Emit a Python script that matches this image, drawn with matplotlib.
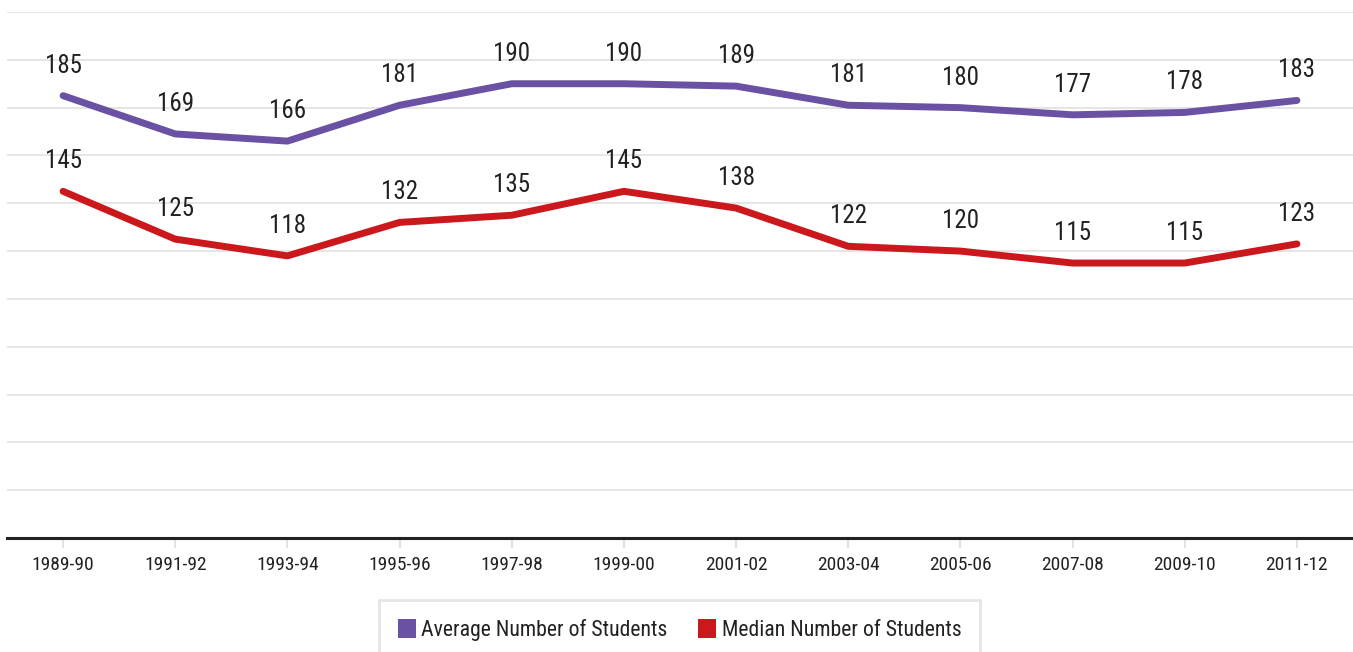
import matplotlib
matplotlib.use("Agg")
import matplotlib.pyplot as plt
from matplotlib.patches import Patch
from matplotlib import font_manager as fm

years = ["1989-90", "1991-92", "1993-94", "1995-96", "1997-98", "1999-00",
         "2001-02", "2003-04", "2005-06", "2007-08", "2009-10", "2011-12"]
average = [185, 169, 166, 181, 190, 190, 189, 181, 180, 177, 178, 183]
median = [145, 125, 118, 132, 135, 145, 138, 122, 120, 115, 115, 123]

PURPLE = "#6a51a3"
RED = "#cb181d"
TXT = "#222222"

# look for a condensed / narrow face
def is_narrow(f):
    n = (f.name + " " + f.fname).lower()
    st = f.stretch
    narrow = ('narrow' in n or 'condensed' in n or
              st in ('condensed', 'semi-condensed', 'extra-condensed', 'ultra-condensed') or
              (isinstance(st, int) and st < 500))
    w = f.weight
    normal_w = w in ('normal', 'regular', 'book', 400) or (isinstance(w, int) and w == 400)
    sty = f.style == 'normal'
    return narrow and normal_w and sty

cands = [f for f in fm.fontManager.ttflist if is_narrow(f)]
pref = ['liberation sans narrow', 'roboto condensed', 'open sans condensed', 'dejavu sans']
chosen = None
for p in pref:
    for f in cands:
        if p in f.name.lower():
            chosen = f
            break
    if chosen:
        break
if chosen is None and cands:
    chosen = cands[0]

if chosen is not None:
    FP = lambda size: fm.FontProperties(fname=chosen.fname, size=size)
    scale = 1.0
else:
    plt.rcParams['font.family'] = ['Roboto', 'DejaVu Sans']
    FP = lambda size: fm.FontProperties(family=['Roboto', 'DejaVu Sans'], size=size)
    scale = 0.85

fig = plt.figure(figsize=(13.53, 6.52), dpi=100)
ax = fig.add_axes([7/1353, (652-538)/652, 1346/1353, 526/652])

x = list(range(len(years)))
ax.plot(x, average, color=PURPLE, lw=5, solid_capstyle='round', zorder=3)
ax.plot(x, median, color=RED, lw=5, solid_capstyle='round', zorder=3)

for series in (average, median):
    for xi, v in zip(x, series):
        ax.annotate(str(v), (xi, v), xytext=(0, 13), textcoords='offset points',
                    ha='center', va='bottom', fontproperties=FP(18 * scale), color=TXT)

ax.set_xlim(-0.5, len(years) - 0.5)
ax.set_ylim(0, 220)
ax.set_yticks(range(0, 221, 20))
ax.yaxis.grid(True, color="#e0e0e0", lw=1.2)
ax.set_axisbelow(True)
ax.tick_params(axis='y', left=False, labelleft=False)
ax.set_xticks(x)
ax.set_xticklabels(years, fontproperties=FP(14 * scale), color=TXT)
ax.tick_params(axis='x', length=7, width=1.2, color="#dddddd", pad=6)
for s in ['top', 'right', 'left']:
    ax.spines[s].set_visible(False)
ax.spines['bottom'].set_color("#222222")
ax.spines['bottom'].set_linewidth(2.2)

handles = [Patch(facecolor=PURPLE, label="Average Number of Students"),
           Patch(facecolor=RED, label="Median Number of Students")]
leg = fig.legend(handles=handles, loc='upper center', bbox_to_anchor=(679.5/1353, 1 - 600/652),
                 ncol=2, frameon=True, prop=FP(15.7 * scale), handlelength=0.83, handleheight=1.0,
                 handletextpad=0.25, columnspacing=1.42, borderpad=0.87, borderaxespad=0,
                 fancybox=False, labelcolor=TXT)
leg.get_frame().set_edgecolor("#e0e0e0")
leg.get_frame().set_linewidth(2)

fig.savefig("out.png", dpi=100)
